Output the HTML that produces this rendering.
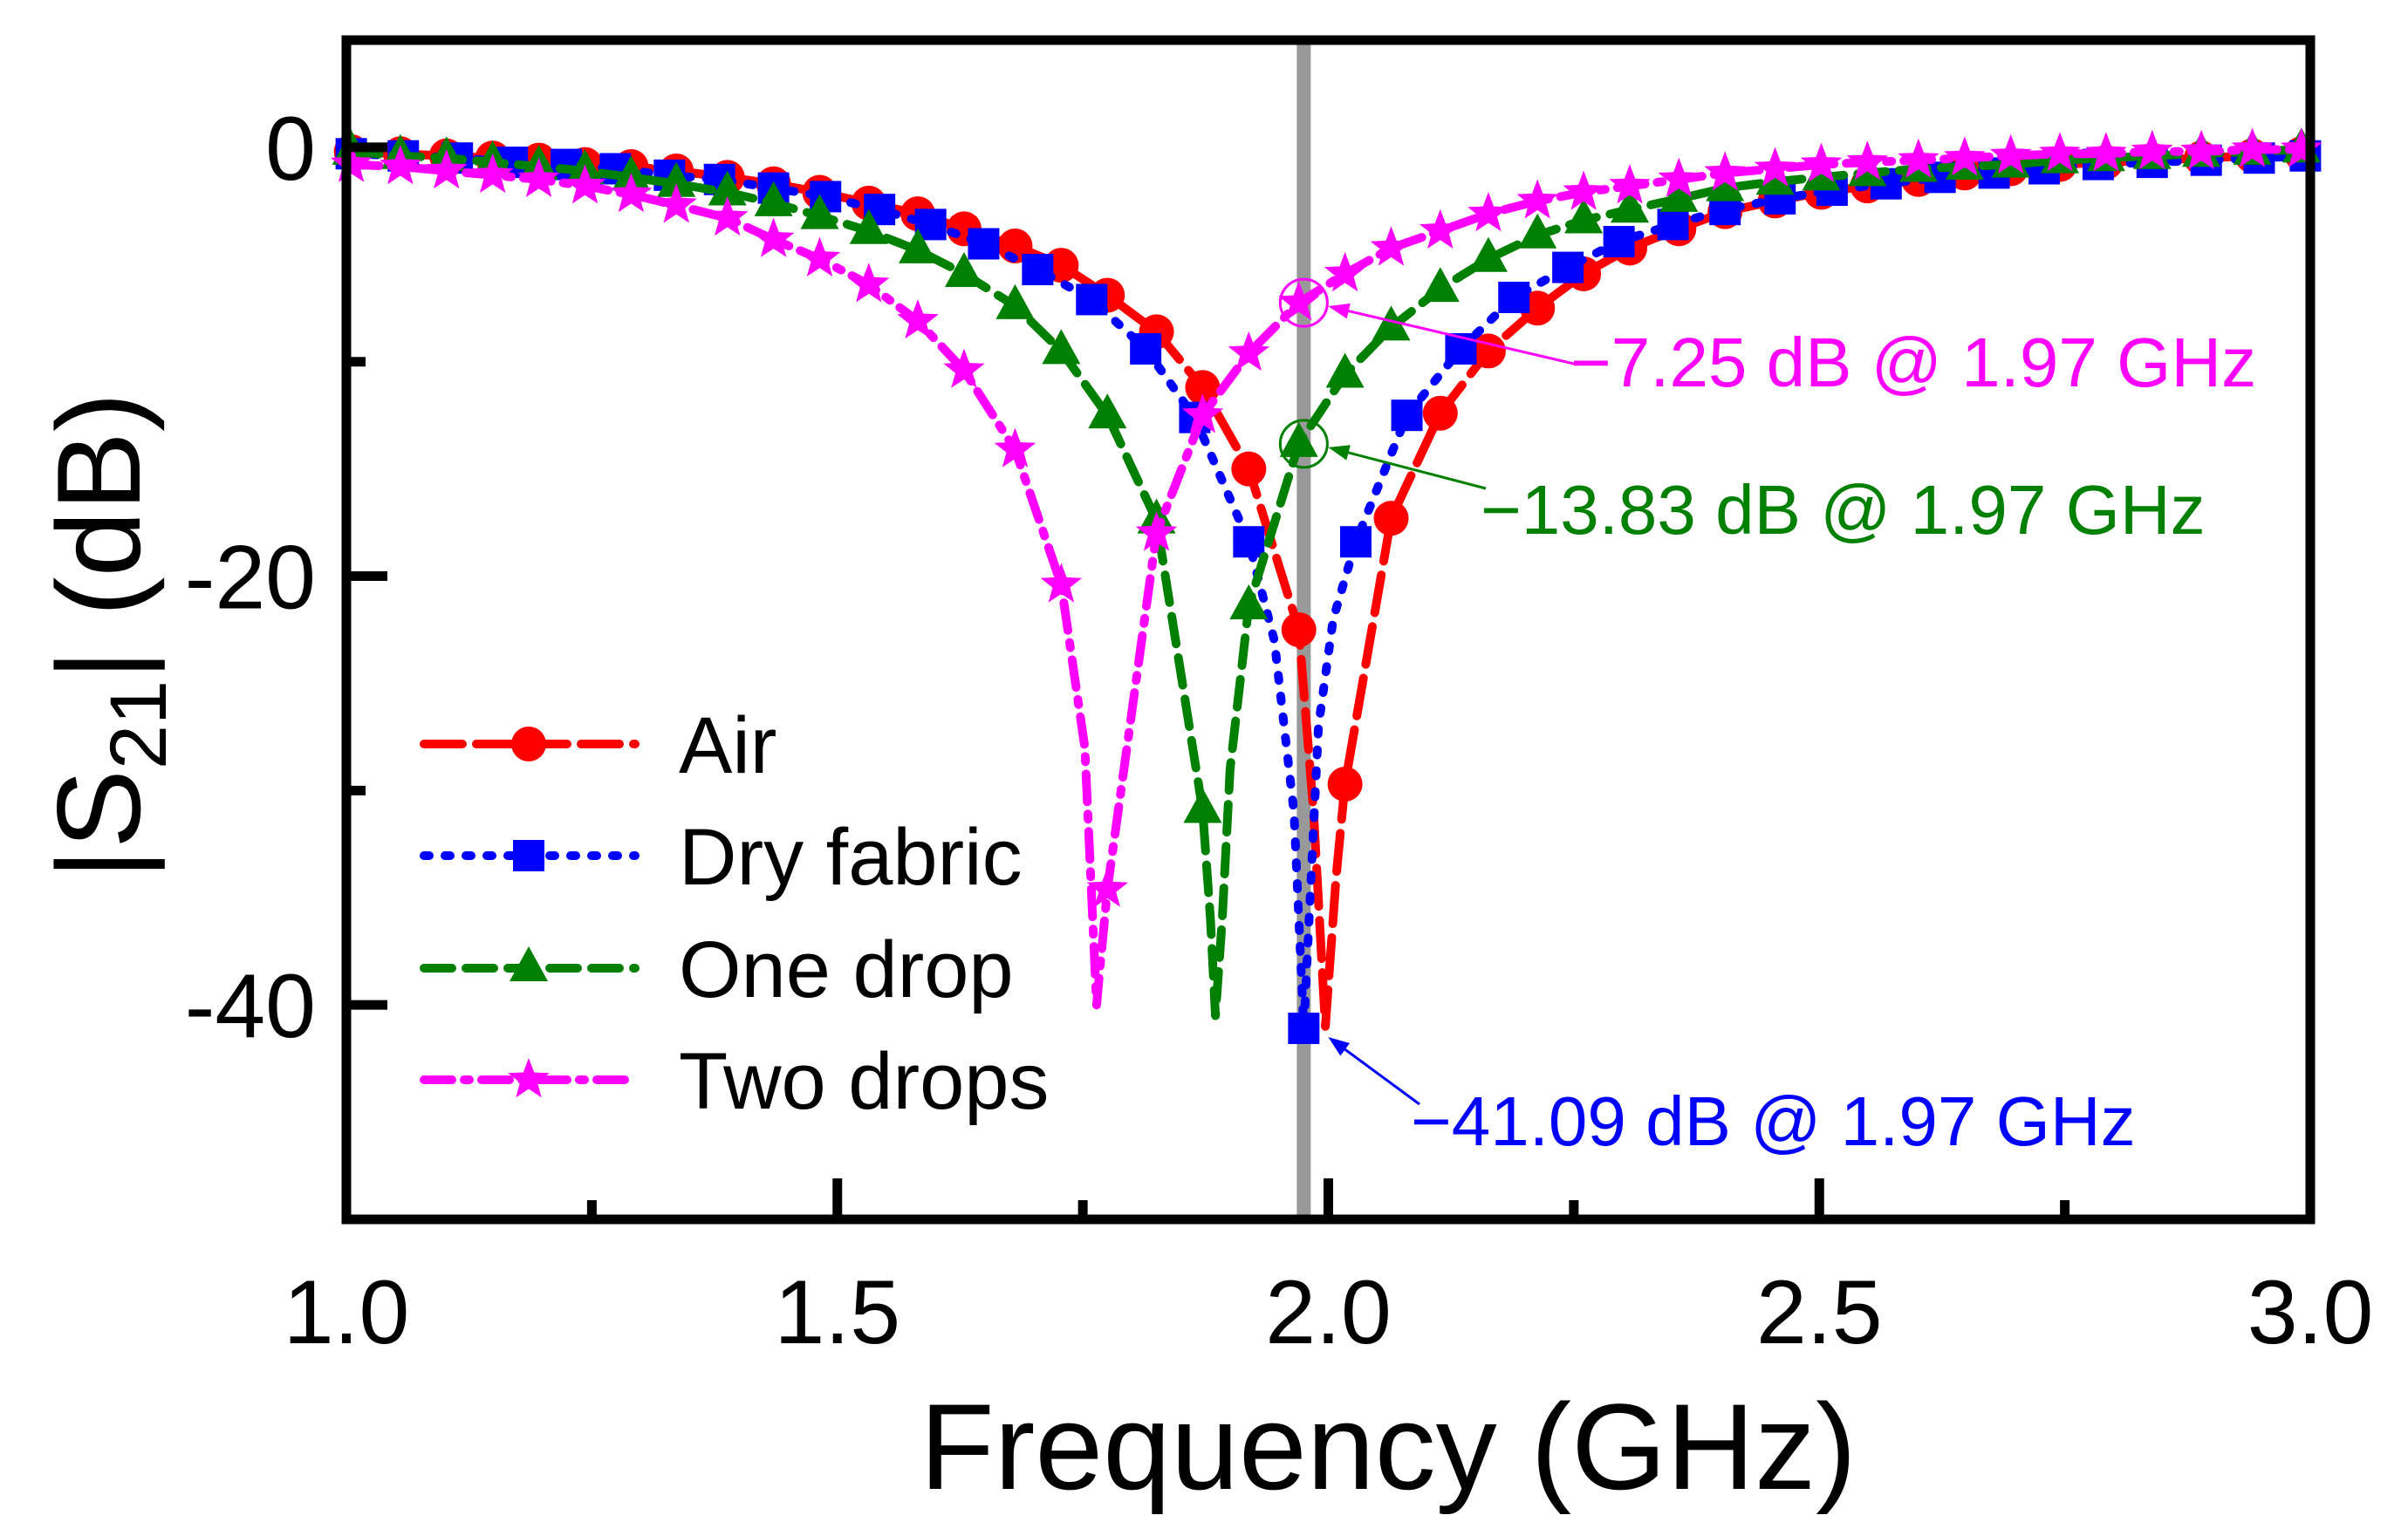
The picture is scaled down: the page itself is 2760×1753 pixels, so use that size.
<!DOCTYPE html>
<html><head><meta charset="utf-8"><style>
html,body{margin:0;padding:0;background:#fff;}
svg{display:block;font-family:"Liberation Sans",Arial,sans-serif;}
</style></head><body>
<svg id="chart" width="2760" height="1753" viewBox="0 0 2760 1753" xmlns="http://www.w3.org/2000/svg">
<g id="plot"></g>
<g id="axes"></g>
</svg>
<script>
// ----- data -----
const xTicks = [1.0, 1.5, 2.0, 2.5, 3.0];
const xTickLabels = ["1.0", "1.5", "2.0", "2.5", "3.0"];
const yTicks = [0, -20, -40];
const yTickLabels = ["0", "-20", "-40"];
const markerLine = 1.975;

const airFreq = [1.005,1.055,1.102,1.149,1.196,1.243,1.290,1.336,1.388,1.435,1.482,1.532,1.582,1.629,1.681,1.728,1.775,1.825,1.872,1.919,1.970,2.017,2.064,2.114,2.163,2.213,2.260,2.307,2.357,2.404,2.455,2.502,2.549,2.601,2.648,2.695,2.745,2.792,2.839,2.889,2.941,2.991];
const airVals = [-0.2,-0.3,-0.4,-0.5,-0.6,-0.8,-0.9,-1.1,-1.4,-1.7,-2.1,-2.6,-3.1,-3.8,-4.6,-5.5,-6.9,-8.6,-11.2,-15,-22.5,-29.7,-17.3,-12.4,-9.5,-7.5,-5.9,-4.7,-3.8,-3.0,-2.5,-2.1,-1.8,-1.5,-1.2,-1.0,-0.8,-0.7,-0.6,-0.5,-0.4,-0.3];
const airDipFreq = [1.985,1.997,2.008];
const airDipVals = [-31,-41,-34];

const dryFreq = [1.005,1.058,1.113,1.169,1.224,1.274,1.329,1.380,1.435,1.488,1.543,1.595,1.649,1.704,1.759,1.814,1.864,1.919,1.975,2.028,2.080,2.135,2.189,2.244,2.296,2.351,2.404,2.460,2.513,2.568,2.623,2.678,2.729,2.784,2.839,2.894,2.948,2.995];
const dryVals = [-0.3,-0.4,-0.5,-0.7,-0.8,-1.0,-1.3,-1.5,-1.9,-2.3,-2.9,-3.6,-4.5,-5.7,-7.1,-9.4,-12.6,-18.4,-41.09,-18.4,-12.5,-9.4,-7.0,-5.6,-4.4,-3.6,-2.9,-2.4,-2.0,-1.7,-1.4,-1.2,-1.0,-0.8,-0.7,-0.6,-0.5,-0.4];
const dryDipFreq = [1.945,1.965,1.99,2.005];
const dryDipVals = [-23,-31,-27,-22];

const oneFreq = airFreq;
const oneVals = [-0.2,-0.4,-0.5,-0.7,-0.9,-1.1,-1.4,-1.7,-2.1,-2.6,-3.2,-3.9,-4.8,-5.9,-7.4,-9.5,-12.5,-17.4,-30.9,-21.4,-13.83,-10.6,-8.4,-6.6,-5.2,-4.1,-3.4,-2.9,-2.4,-1.9,-1.6,-1.4,-1.2,-1.0,-0.9,-0.8,-0.6,-0.5,-0.4,-0.3,-0.2,-0.1];
const oneDipFreq = [1.880,1.885,1.892,1.900];
const oneDipVals = [-36,-40.5,-36,-29];

const twoFreq = airFreq;
const twoVals = [-0.8,-0.9,-1.1,-1.3,-1.5,-1.8,-2.2,-2.7,-3.3,-4.3,-5.2,-6.4,-8.1,-10.4,-14.1,-20.4,-34.6,-18,-12.5,-9.6,-7.25,-5.9,-4.7,-3.9,-3.1,-2.5,-2.1,-1.8,-1.5,-1.2,-1.0,-0.8,-0.7,-0.6,-0.5,-0.4,-0.3,-0.3,-0.2,-0.2,-0.1,-0.1];
const twoDipFreq = [1.752,1.764,1.768];
const twoDipVals = [-28,-40,-38];

// ----- layout -----
const L = 397, R = 2648, T = 46, B = 1398;
const xMin = 1, xMax = 3, yMin = -50, yMax = 5;
const xs = v => L + (v - xMin) / (xMax - xMin) * (R - L);
const ys = v => B - (v - yMin) / (yMax - yMin) * (B - T);
const NS = "http://www.w3.org/2000/svg";
function mk(tag, attrs, parent) {
  const e = document.createElementNS(NS, tag);
  for (const k in attrs) e.setAttribute(k, attrs[k]);
  parent.appendChild(e);
  return e;
}
const plot = document.getElementById('plot');
const axes = document.getElementById('axes');

const gl = mk('line', {x1: xs(markerLine), x2: xs(markerLine), y1: T, y2: B, stroke: '#999', 'stroke-width': 16}, plot);



function marker(kind, cx, cy, color, parent) {
  let e;
  if (kind === 'circle') e = mk('circle', {cx, cy, r: 20, fill: color}, parent);
  else if (kind === 'square') e = mk('rect', {x: cx - 18, y: cy - 18, width: 36, height: 36, fill: color}, parent);
  else if (kind === 'triangle') e = mk('polygon', {points: `${cx},${cy-25} ${cx-22},${cy+15} ${cx+22},${cy+15}`, fill: color}, parent);
  else {
    let p = [];
    for (let i = 0; i < 10; i++) {
      const a = -Math.PI / 2 + i * Math.PI / 5, r = i % 2 ? 10.5 : 25;
      p.push((cx + r * Math.cos(a)).toFixed(1) + ',' + (cy + r * Math.sin(a)).toFixed(1));
    }
    e = mk('polygon', {points: p.join(' '), fill: color}, parent);
  }
  return e;
}

const series = [
  {name: 'air', f: airFreq, v: airVals, df: airDipFreq, dv: airDipVals, color: '#ff0000', dash: '44 16', m: 'circle'},
  {name: 'dry-fabric', f: dryFreq, v: dryVals, df: dryDipFreq, dv: dryDipVals, color: '#0000ff', dash: '6 18', m: 'square'},
  {name: 'one-drop', f: oneFreq, v: oneVals, df: oneDipFreq, dv: oneDipVals, color: '#008000', dash: '32 16', m: 'triangle'},
  {name: 'two-drops', f: twoFreq, v: twoVals, df: twoDipFreq, dv: twoDipVals, color: '#ff00ff', dash: '32 14 6 14', m: 'star'}
];
series.forEach(s => {
  const g = mk('g', {}, plot);
  
  
  const pts = s.f.map((f, i) => [f, s.v[i]]).concat(s.df.map((f, i) => [f, s.dv[i]])).sort((a, b) => a[0] - b[0]);
  const path = mk('path', {d: 'M' + pts.map(p => xs(p[0]).toFixed(1) + ',' + ys(p[1]).toFixed(1)).join(' L'), fill: 'none', stroke: s.color, 'stroke-width': 10, 'stroke-dasharray': s.dash, 'stroke-linecap': 'round', 'stroke-linejoin': 'round'}, g);
  
  
  s.f.forEach((f, i) => {
    const e = marker(s.m, xs(f), ys(s.v[i]), s.color, g);
    
    
  });
});

const ann = [
  {t: '\u22127.25 dB @ 1.97 GHz', c: '#ff00ff', v: -7.25, tx: 1800, ty: 443, ax: 1808, ay: 418, circ: true, n: 'two-drops'},
  {t: '\u221213.83 dB @ 1.97 GHz', c: '#008000', v: -13.83, tx: 1697, ty: 612, ax: 1703, ay: 560, circ: true, n: 'one-drop'},
  {t: '\u221241.09 dB @ 1.97 GHz', c: '#0000ff', v: -41.09, tx: 1617, ty: 1313, ax: 1627, ay: 1266, circ: false, n: 'dry-fabric'}
];
ann.forEach(a => {
  const g = mk('g', {}, plot);
  
  
  const px = xs(markerLine), py = ys(a.v);
  if (a.circ) mk('circle', {cx: px, cy: py, r: 27, fill: 'none', stroke: a.c, 'stroke-width': 3}, g);
  const ex = px + 28, ey = py + (a.circ ? 4 : 10);
  const ang = Math.atan2(a.ay - ey, a.ax - ex);
  mk('line', {x1: a.ax, y1: a.ay, x2: ex + 20 * Math.cos(ang), y2: ey + 20 * Math.sin(ang), stroke: a.c, 'stroke-width': 3}, g);
  const h = 24, w = 9;
  const p1 = [ex + h * Math.cos(ang) - w * Math.sin(ang), ey + h * Math.sin(ang) + w * Math.cos(ang)];
  const p2 = [ex + h * Math.cos(ang) + w * Math.sin(ang), ey + h * Math.sin(ang) - w * Math.cos(ang)];
  mk('polygon', {points: `${ex},${ey} ${p1} ${p2}`, fill: a.c}, g);
  const t = mk('text', {x: a.tx, y: a.ty, fill: a.c, 'font-size': 80}, g);
  t.textContent = a.t;
});

const fr = mk('rect', {x: L, y: T, width: R - L, height: B - T, fill: 'none', stroke: '#000', 'stroke-width': 11}, axes);



for (let v = 1; v <= 3.0001; v += 0.25) {
  const major = Math.abs(v * 2 - Math.round(v * 2)) < 1e-6;
  const tk = mk('line', {x1: xs(v), x2: xs(v), y1: B, y2: B - (major ? 47 : 22), stroke: '#000', 'stroke-width': 11}, axes);
  
  
}
xTicks.forEach((v, i) => {
  const t = mk('text', {x: xs(v), y: 1540, 'text-anchor': 'middle', 'font-size': 104}, axes);
  
  
  t.textContent = xTickLabels[i];
});
for (let v = -40; v <= 0; v += 10) {
  const major = v % 20 === 0;
  const tk = mk('line', {x1: L, x2: L + (major ? 47 : 22), y1: ys(v), y2: ys(v), stroke: '#000', 'stroke-width': 11}, axes);
  
  
}
yTicks.forEach((v, i) => {
  const t = mk('text', {x: 362, y: ys(v) + 37, 'text-anchor': 'end', 'font-size': 104}, axes);
  
  
  t.textContent = yTickLabels[i];
});

const lg = mk('g', {}, axes);


const legendLabels = ['Air', 'Dry fabric', 'One drop', 'Two drops'];
const legendY = [853, 981, 1110, 1238];
series.forEach((s, i) => {
  const g = mk('g', {}, lg);
  
  
  mk('line', {x1: 486, x2: 728, y1: legendY[i], y2: legendY[i], stroke: s.color, 'stroke-width': 10, 'stroke-dasharray': s.dash, 'stroke-linecap': 'round'}, g);
  marker(s.m, 606, legendY[i], s.color, g);
  const t = mk('text', {x: 778, y: legendY[i] + 33, 'font-size': 92}, g);
  t.textContent = legendLabels[i];
});

const svg = document.getElementById('chart');
const xt = mk('text', {x: 1591, y: 1707, 'text-anchor': 'middle', 'font-size': 140}, svg);


xt.textContent = 'Frequency (GHz)';
const yt = mk('text', {transform: 'translate(160,729) rotate(-90)', 'text-anchor': 'middle', 'font-size': 136}, svg);


yt.innerHTML = '|S<tspan font-size="92" dy="30">21</tspan><tspan dy="-30">| (dB)</tspan>';
</script>
</body></html>
